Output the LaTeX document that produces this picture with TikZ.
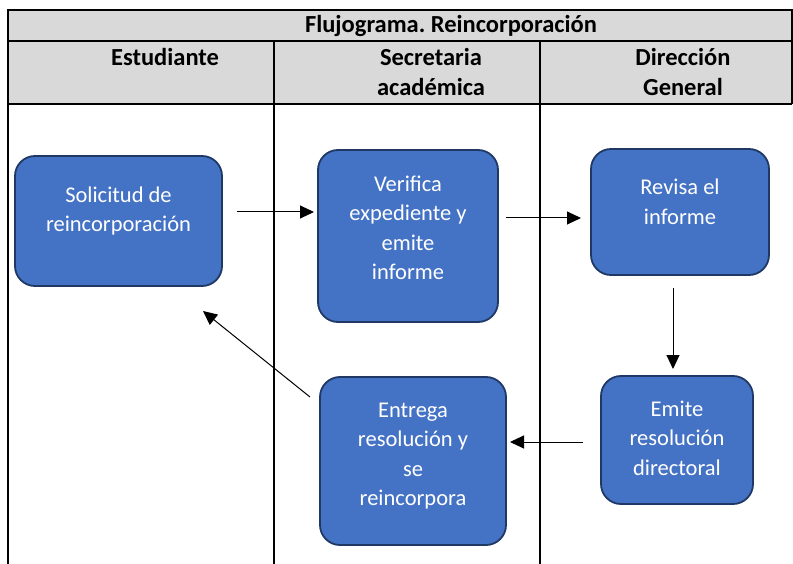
\documentclass[tikz,border=0pt]{standalone}
\usepackage{fontspec}
\setmainfont{Carlito}
\frenchspacing
\usetikzlibrary{arrows.meta}
\definecolor{hdr}{HTML}{D9D9D9}
\definecolor{boxfill}{HTML}{4472C4}
\definecolor{boxline}{HTML}{203864}
\tikzset{
  tline/.style={line width=2pt, black},
  hdrtext/.style={font=\bfseries\fontsize{24.5}{30}\selectfont, align=center, inner sep=0pt},
  box/.style={draw=boxline, line width=1.8pt, fill=boxfill, rounded corners=20pt, inner sep=0pt},
  boxtext/.style={text=white, font=\fontsize{22.5}{29.5}\selectfont, align=center, inner sep=0pt},
  arr/.style={line width=1pt, -{Triangle[length=14pt,width=13pt]}}
}
\begin{document}
\begin{tikzpicture}[x=1pt,y=-1pt]
\useasboundingbox (0,0) rectangle (793,564);
% table
\fill[hdr] (8,10) rectangle (792,104);
\draw[tline] (8,564) -- (8,10) -- (792,10) -- (792,104);
\draw[tline] (8,41.5) -- (792,41.5);
\draw[tline] (8,104) -- (792,104);
\draw[tline] (274,41.5) -- (274,564);
\draw[tline] (540,41.5) -- (540,564);
\node[hdrtext] (title) at (451,26) {Flujograma. Reincorporación};
\node[hdrtext, anchor=north] (c1) at (165,48) {Estudiante};
\node[hdrtext, anchor=north] (c2) at (431,48) {Secretaria\\académica};
\node[hdrtext, anchor=north] (c3) at (683,48) {Dirección\\General};
% boxes
\node[box, minimum width=207pt, minimum height=130pt] (sol) at (118.5,221) {};
\node[box, minimum width=180pt, minimum height=172pt] (ver) at (408,236) {};
\node[box, minimum width=178pt, minimum height=126pt] (rev) at (680,212) {};
\node[box, minimum width=152pt, minimum height=128pt] (emi) at (677,440) {};
\node[box, minimum width=186pt, minimum height=168pt] (ent) at (413,461) {};
\node[boxtext] (tsol) at (118.5,211) {Solicitud de\\reincorporación};
\node[boxtext] (tver) at (408,228) {Verifica\\expediente y\\emite\\informe};
\node[boxtext] (trev) at (680,202) {Revisa el\\informe};
\node[boxtext] (temi) at (677,438) {Emite\\resolución\\directoral};
\node[boxtext] (tent) at (413,456) {Entrega\\resolución y\\se\\reincorpora};
% arrow ends
\coordinate (a1s) at (237,212);   \coordinate (a1e) at (314,212);
\coordinate (a2s) at (506,218);   \coordinate (a2e) at (581,218);
\coordinate (a3s) at (673,288);   \coordinate (a3e) at (673,369);
\coordinate (a4s) at (583,442);   \coordinate (a4e) at (510,442);
\coordinate (a5s) at (310,397);   \coordinate (a5e) at (203,311);
\draw[arr] (a1s) -- (a1e);
\draw[arr] (a2s) -- (a2e);
\draw[arr] (a3s) -- (a3e);
\draw[arr] (a4s) -- (a4e);
\draw[arr] (a5s) -- (a5e);
\end{tikzpicture}
\end{document}
